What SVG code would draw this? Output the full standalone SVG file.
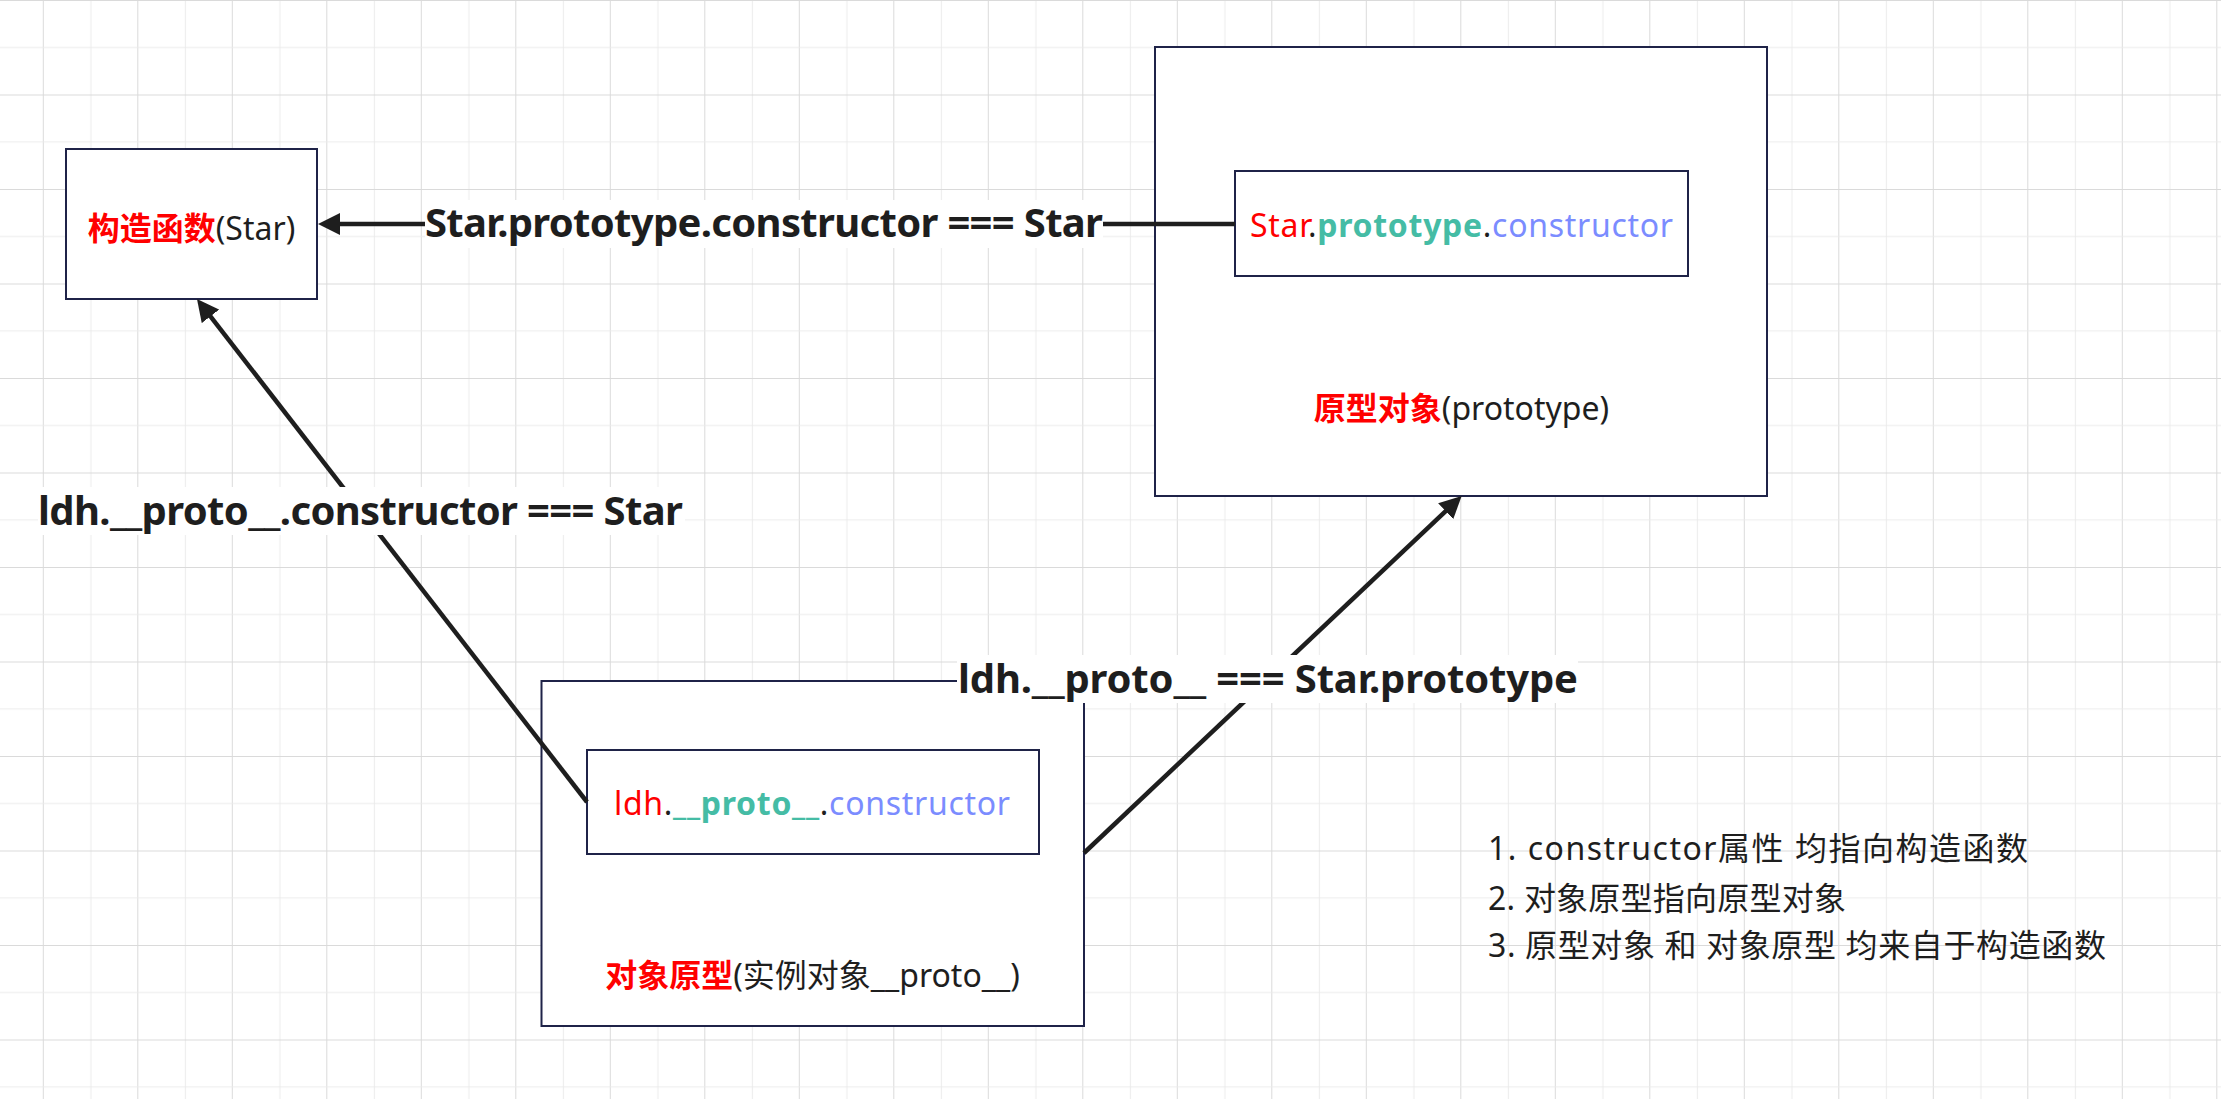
<svg xmlns="http://www.w3.org/2000/svg" width="2221" height="1099" viewBox="0 0 2221 1099">
<defs>
<pattern id="grid" patternUnits="userSpaceOnUse" x="42.8" y="0" width="94.5" height="94.5">
<rect x="0" y="0" width="1" height="94.5" fill="#dadada"/>
<rect x="47.6" y="0" width="1" height="94.5" fill="#ebebeb"/>
<rect x="0" y="0" width="94.5" height="1" fill="#dadada"/>
<rect x="0" y="47" width="94.5" height="1" fill="#ebebeb"/>
</pattern>
<marker id="arrow" viewBox="0 0 22 22" refX="12" refY="11" markerWidth="22" markerHeight="22" markerUnits="userSpaceOnUse" orient="auto">
<path d="M0,0 L22,11 L0,22 z" fill="#1e1e1e"/>
</marker>
<style>
.box{fill:#ffffff;stroke:#1f2348;stroke-width:2}
.edge{fill:none;stroke:#1e1e1e;stroke-width:4.5}
.t{font-family:"Noto Sans","Noto Sans CJK SC",sans-serif;font-size:32px;fill:#1e1e1e}
.lbl{font-family:"Noto Sans","Noto Sans CJK SC",sans-serif;font-size:40px;font-weight:bold;fill:#1e1e1e}
.red{fill:#ff0000}
.rb{fill:#ff0000;font-weight:bold}
.teal{fill:#45bca5;font-weight:bold}
.blue{fill:#7b8cff}
.bg{fill:#ffffff}
</style>
</defs>
<rect x="0" y="0" width="2221" height="1099" fill="#ffffff"/>
<rect x="0" y="0" width="2221" height="1099" fill="url(#grid)"/>

<g id="node-constructor">
<rect class="box" x="66" y="149" width="251" height="150"/>
<text class="t" x="191.5" y="240" text-anchor="middle"><tspan class="rb">构造函数</tspan>(Star)</text>
</g>

<g id="node-prototype">
<rect class="box" x="1155" y="47" width="612" height="449"/>
<text class="t" x="1461.5" y="420" text-anchor="middle"><tspan class="rb">原型对象</tspan>(prototype)</text>
</g>

<g id="node-prototype-constructor">
<rect class="box" x="1235" y="171" width="453" height="105"/>
<text class="t" x="1250" y="237" textLength="423" lengthAdjust="spacing"><tspan class="red">Star</tspan>.<tspan class="teal">prototype</tspan>.<tspan class="blue">constructor</tspan></text>
</g>

<g id="node-instance-proto">
<rect class="box" x="541.5" y="681" width="542.5" height="345"/>
<text class="t" x="812.5" y="987" text-anchor="middle"><tspan class="rb">对象原型</tspan>(实例对象__proto__)</text>
</g>

<g id="node-instance-constructor">
<rect class="box" x="587" y="750" width="452" height="104"/>
<text class="t" x="614" y="815" textLength="396" lengthAdjust="spacing"><tspan class="red">ldh</tspan>.<tspan class="teal">__proto__</tspan>.<tspan class="blue">constructor</tspan></text>
</g>

<g id="connectors">
<line class="edge" x1="1235" y1="224" x2="328" y2="224" marker-end="url(#arrow)"/>
<line class="edge" x1="587" y1="802" x2="203.1" y2="306.9" marker-end="url(#arrow)"/>
<line class="edge" x1="1084" y1="853" x2="1454.4" y2="502.9" marker-end="url(#arrow)"/>
<rect class="bg" x="425" y="200" width="678" height="48"/>
<text class="lbl" x="425" y="237" textLength="678" lengthAdjust="spacing">Star.prototype.constructor === Star</text>
<rect class="bg" x="38" y="487" width="647" height="48"/>
<text class="lbl" x="38" y="525" textLength="645" lengthAdjust="spacing">ldh.__proto__.constructor === Star</text>
<rect class="bg" x="957" y="655" width="621" height="48"/>
<text class="lbl" x="958" y="693" textLength="620" lengthAdjust="spacing">ldh.__proto__ === Star.prototype</text>
</g>

<g id="notes">
<text class="t" x="1488" y="860" textLength="540" lengthAdjust="spacing">1. constructor属性 均指向构造函数</text>
<text class="t" x="1488" y="910" textLength="358" lengthAdjust="spacing">2. 对象原型指向原型对象</text>
<text class="t" x="1488" y="957" textLength="618" lengthAdjust="spacing">3. 原型对象 和 对象原型 均来自于构造函数</text>
</g>
</svg>
